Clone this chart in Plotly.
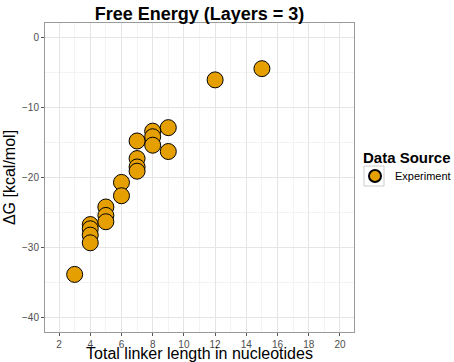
import plotly.graph_objects as go

linker_length = [3, 4, 4, 4, 4, 5, 5, 5, 6, 6, 7, 7, 7, 7, 8, 8, 8, 9, 9, 12, 15]
delta_g = [-33.8, -26.7, -27.3, -28.2, -29.3, -24.2, -25.4, -26.3, -20.7, -22.6,
           -14.8, -17.3, -18.5, -19.1, -13.4, -14.2, -15.4, -12.9, -16.3, -6.1, -4.5]
x_ticks = [2, 4, 6, 8, 10, 12, 14, 16, 18, 20]
y_ticks = [-40, -30, -20, -10, 0]

FONT = "Liberation Sans, Arial, sans-serif"
W, H = 454, 362
ML, MR, MT, MB = 45, 100, 23, 30
PW, PH = W - ML - MR, H - MT - MB

def px_to_paper_x(px):
    return (px - ML) / PW

def px_to_paper_y(py):
    return (H - MB - py) / PH

fig = go.Figure()
fig.add_trace(go.Scatter(
    x=linker_length, y=delta_g, mode="markers", name="Experiment",
    marker=dict(size=16, color="#E69F00", line=dict(color="black", width=1)),
))

axis_common = dict(
    showgrid=True, gridcolor="#E5E5E5", gridwidth=1, automargin=False,
    zeroline=False, showline=True, mirror=True, linecolor="#9A9A9A", linewidth=1,
    ticks="outside", ticklen=3, tickcolor="#555555",
    tickfont=dict(family=FONT, size=10, color="#4D4D4D"),
)

# legend key box (ggplot-style)
fig.add_shape(type="rect", xref="paper", yref="paper",
              x0=px_to_paper_x(364), x1=px_to_paper_x(384),
              y0=px_to_paper_y(186), y1=px_to_paper_y(166),
              line=dict(color="#CCCCCC", width=1), fillcolor="white", layer="below")

# legend title
fig.add_annotation(text="<b>Data Source</b>", xref="paper", yref="paper",
                   x=px_to_paper_x(361), y=px_to_paper_y(157),
                   xanchor="left", yanchor="middle", showarrow=False,
                   font=dict(size=15, family=FONT, color="black"))

fig.update_layout(
    width=W, height=H, autosize=False,
    margin=dict(l=ML, r=MR, t=MT, b=MB),
    paper_bgcolor="white", plot_bgcolor="white",
    font=dict(family=FONT, color="black"),
    title=dict(text="<b>Free Energy (Layers = 3)</b>", xref="paper", x=0.5, xanchor="center",
               yref="container", y=1 - 14 / H, yanchor="middle", font=dict(size=18, family=FONT)),
    xaxis=dict(range=[1.1, 20.9], tickvals=x_ticks,
               minor=dict(dtick=1, showgrid=True, gridcolor="#F3F3F3", ticks=""),
               title=dict(text="Total linker length in nucleotides",
                          font=dict(size=16, family=FONT), standoff=0),
               **axis_common),
    yaxis=dict(range=[-42, 2], tickvals=y_ticks,
               minor=dict(dtick=5, showgrid=True, gridcolor="#F3F3F3", ticks=""),
               title=dict(text="ΔG [kcal/mol]", font=dict(size=16, family=FONT), standoff=2),
               **axis_common),
    showlegend=True,
    legend=dict(xref="container", yref="container", x=355 / W, xanchor="left",
                y=1 - 176 / H, yanchor="middle",
                font=dict(size=11, family=FONT), itemsizing="constant",
                itemwidth=30, tracegroupgap=0,
                bgcolor="rgba(0,0,0,0)"),
)

fig.write_html(
    "out.html",
    config={"responsive": False, "displayModeBar": False},
    default_width="454px", default_height="362px",
    post_script="document.body.style.margin='0';document.body.style.overflow='hidden';",
)
